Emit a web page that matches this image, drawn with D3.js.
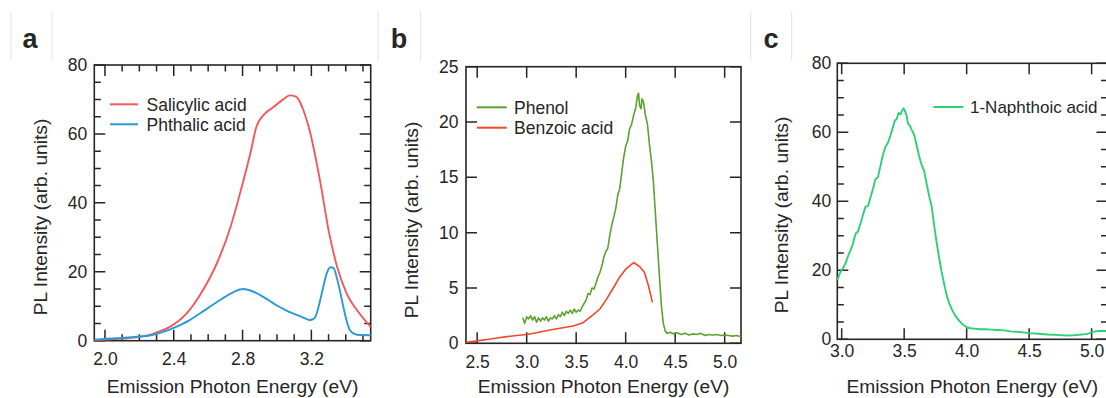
<!DOCTYPE html>
<html>
<head>
<meta charset="utf-8">
<script src="https://cdn.jsdelivr.net/npm/d3@7"></script>
<style>
  body { margin: 0; background: #fff; }
  svg { display: block; }
  text { font-family: "Liberation Sans", Arial, Helvetica, sans-serif; fill: #262626; }
</style>
</head>
<body>
<svg id="fig" width="1106" height="398"></svg>
<script>
// ---------- Panel a: PL spectra (arb. units) vs emission photon energy (eV) ----------
const salicylicE = [1.94, 2.0, 2.1, 2.2, 2.26, 2.3, 2.38, 2.475, 2.57, 2.65, 2.73, 2.795, 2.845, 2.88, 2.93, 2.98, 3.03, 3.076, 3.11, 3.134, 3.16, 3.19, 3.25, 3.30, 3.35, 3.405, 3.48, 3.545];
const salicylicI = [0.2, 0.3, 0.6, 1.1, 1.65, 2.4, 4.1, 7.9, 14.7, 22.4, 33.0, 44.6, 54.3, 62.0, 65.9, 67.8, 69.8, 71.2, 70.8, 69.2, 66.0, 61.0, 46.5, 32.1, 21.4, 13.7, 7.9, 4.0];

const phthalicE = [1.94, 2.0, 2.1, 2.2, 2.26, 2.33, 2.417, 2.49, 2.552, 2.669, 2.75, 2.804, 2.85, 2.90, 2.95, 3.0, 3.05, 3.10, 3.15, 3.19, 3.215, 3.231, 3.25, 3.269, 3.29, 3.312, 3.33, 3.347, 3.366, 3.386, 3.405, 3.424, 3.45, 3.483, 3.545];
const phthalicI = [0.3, 0.5, 0.8, 1.2, 1.5, 2.4, 4.1, 5.9, 7.9, 11.8, 14.2, 15.0, 14.5, 13.3, 11.8, 10.2, 8.9, 7.8, 6.8, 6.0, 6.4, 7.9, 11.5, 15.6, 19.6, 21.3, 21.0, 18.5, 14.5, 9.8, 5.8, 3.1, 2.0, 1.65, 1.6];

// ---------- Panel b ----------
const phenolE = [2.96, 2.98, 3.00, 3.02, 3.04, 3.06, 3.08, 3.10, 3.12, 3.14, 3.16, 3.18, 3.20, 3.22, 3.24, 3.26, 3.28, 3.30, 3.32, 3.34, 3.36, 3.38, 3.40, 3.42, 3.44, 3.46, 3.48, 3.50, 3.52, 3.54, 3.56, 3.58, 3.60, 3.62, 3.64, 3.66, 3.68, 3.70, 3.72, 3.74, 3.76, 3.78, 3.80, 3.82, 3.84, 3.86, 3.88, 3.90, 3.92, 3.94, 3.96, 3.98, 4.00, 4.02, 4.04, 4.06, 4.08, 4.10, 4.12, 4.13, 4.14, 4.155, 4.165, 4.18, 4.20, 4.22, 4.24, 4.26, 4.28, 4.30, 4.32, 4.34, 4.36, 4.38, 4.40, 4.42, 4.45, 4.48, 4.52, 4.56, 4.60, 4.64, 4.68, 4.72, 4.76, 4.80, 4.84, 4.88, 4.92, 4.96, 5.00, 5.04, 5.08, 5.12, 5.165];
const phenolI = [2.3, 1.8, 2.4, 2.2, 2.5, 2.1, 2.4, 1.9, 2.3, 2.0, 2.3, 2.1, 2.4, 2.0, 2.3, 2.2, 2.5, 2.2, 2.6, 2.4, 2.8, 2.5, 2.9, 2.7, 3.0, 2.7, 3.1, 2.8, 3.0, 2.9, 3.3, 3.6, 3.9, 4.5, 4.4, 5.0, 4.9, 5.4, 6.0, 6.4, 7.0, 7.8, 8.3, 8.6, 9.8, 10.7, 11.4, 12.2, 13.4, 14.0, 15.4, 16.8, 17.8, 18.3, 19.4, 19.8, 20.6, 21.2, 22.4, 22.6, 21.5, 21.2, 22.1, 21.8, 20.6, 19.8, 18.0, 16.5, 14.6, 11.8, 9.0, 6.2, 3.5, 1.8, 1.1, 0.9, 1.0, 0.85, 0.95, 0.8, 0.9, 0.75, 0.85, 0.8, 0.9, 0.7, 0.8, 0.75, 0.8, 0.7, 0.75, 0.7, 0.65, 0.7, 0.6];

const benzoicE = [2.39, 2.5, 2.6, 2.7, 2.8, 2.9, 3.0, 3.1, 3.235, 3.35, 3.47, 3.57, 3.67, 3.74, 3.8, 3.875, 3.94, 4.0, 4.08, 4.145, 4.19, 4.23, 4.27];
const benzoicI = [0.1, 0.22, 0.35, 0.48, 0.6, 0.7, 0.8, 0.95, 1.2, 1.38, 1.56, 1.86, 2.56, 3.1, 3.9, 5.0, 6.0, 6.7, 7.3, 6.9, 6.4, 5.2, 3.7];

// ---------- Panel c ----------
const naphthoicE = [2.965, 2.99, 3.01, 3.03, 3.05, 3.07, 3.09, 3.10, 3.115, 3.13, 3.15, 3.17, 3.19, 3.21, 3.23, 3.25, 3.27, 3.29, 3.31, 3.33, 3.35, 3.37, 3.39, 3.41, 3.425, 3.44, 3.455, 3.47, 3.485, 3.495, 3.505, 3.52, 3.53, 3.545, 3.56, 3.58, 3.60, 3.62, 3.64, 3.66, 3.68, 3.70, 3.72, 3.74, 3.76, 3.78, 3.80, 3.82, 3.84, 3.86, 3.88, 3.90, 3.92, 3.94, 3.96, 3.98, 4.00, 4.03, 4.06, 4.10, 4.15, 4.20, 4.25, 4.30, 4.35, 4.40, 4.45, 4.50, 4.55, 4.60, 4.65, 4.70, 4.75, 4.80, 4.85, 4.90, 4.95, 4.98, 5.00, 5.03, 5.06, 5.10, 5.127];
const naphthoicI = [17.2, 19.5, 20.6, 22.0, 24.0, 25.8, 27.6, 29.2, 30.8, 31.2, 33.5, 36.0, 38.4, 38.6, 41.0, 43.6, 46.4, 47.0, 50.2, 53.5, 55.8, 57.0, 59.0, 61.5, 63.4, 63.8, 65.6, 65.2, 66.4, 67.0, 66.3, 64.8, 62.5, 62.0, 60.8, 59.3, 56.2, 53.0, 50.5, 48.8, 45.0, 41.5, 38.5, 33.0, 28.0, 23.5, 19.5, 16.0, 12.8, 10.5, 8.8, 7.4, 6.3, 5.4, 4.6, 4.0, 3.5, 3.2, 3.1, 2.9, 2.9, 2.8, 2.7, 2.6, 2.3, 2.2, 2.0, 1.8, 1.7, 1.55, 1.4, 1.3, 1.2, 1.1, 1.15, 1.3, 1.5, 1.7, 2.0, 2.3, 2.4, 2.4, 2.4];

// ---------- Tick values ----------
const aXMajor = [2.0, 2.4, 2.8, 3.2];
const aXMinor = [2.1, 2.2, 2.3, 2.5, 2.6, 2.7, 2.9, 3.0, 3.1, 3.3, 3.4, 3.5];
const aYMajor = [0, 20, 40, 60, 80];
const aYMinor = [5, 10, 15, 25, 30, 35, 45, 50, 55, 65, 70, 75];

const bXMajor = [2.5, 3.0, 3.5, 4.0, 4.5, 5.0];
const bYMajor = [0, 5, 10, 15, 20, 25];

const cXMajor = [3.0, 3.5, 4.0, 4.5, 5.0];
const cYMajor = [0, 20, 40, 60, 80];
const cYMinor = [5, 10, 15, 25, 30, 35, 45, 50, 55, 65, 70, 75];

const xTitle = "Emission Photon Energy (eV)";
const yTitle = "PL Intensity (arb. units)";

const svg = d3.select("#fig");
const INK = "#262626";
const MAJOR = 11, MINOR = 6.5;

function drawPanel(p) {
  const g = svg.append("g");
  const x = d3.scaleLinear().domain(p.xDomain).range([p.left, p.right]);
  const y = d3.scaleLinear().domain(p.yDomain).range([p.bottom, p.top]);
  const fmtX = d3.format(".1f"), fmtY = d3.format("d");

  // tick labels from d3 axes
  const labels = (axis, tx, ty) => {
    const a = g.append("g").attr("transform", `translate(${tx},${ty})`).call(axis);
    a.select(".domain").remove();
    a.selectAll(".tick line").remove();
    a.selectAll(".tick text").attr("font-size", p.tickFont).attr("fill", INK)
      .style("font-family", '"Liberation Sans", Arial, sans-serif');
  };
  labels(d3.axisBottom(x).tickValues(p.xMajor).tickSize(0).tickPadding(p.xPad).tickFormat(fmtX), 0, p.bottom);
  labels(d3.axisLeft(y).tickValues(p.yMajor).tickSize(0).tickPadding(p.yPad).tickFormat(fmtY), p.left, 0);

  // inward tick marks on all four sides, placed with the same scales
  const marks = (vals, len) => {
    const d = vals.map(v =>
      `M${x(v)},${p.bottom}v${-len}M${x(v)},${p.top}v${len}`).join("");
    return d;
  };
  const ymarks = (vals, len) => vals.map(v =>
      `M${p.left},${y(v)}h${len}M${p.right},${y(v)}h${-len}`).join("");
  let tickD = marks(p.xMajor, MAJOR) + ymarks(p.yMajor, MAJOR);
  if (p.xMinor) tickD += marks(p.xMinor, MINOR);
  if (p.yMinor) tickD += ymarks(p.yMinor, MINOR);
  g.append("path").attr("d", tickD)
    .attr("fill", "none").attr("stroke", INK).attr("stroke-width", 1.5);

  // frame
  g.append("rect").attr("x", p.left).attr("y", p.top)
    .attr("width", p.right - p.left).attr("height", p.bottom - p.top)
    .attr("fill", "none").attr("stroke", INK).attr("stroke-width", 1.6);

  // spectra
  p.series.forEach(s => {
    const pts = s.e.map((e, i) => [e, s.v[i]]);
    g.append("path")
      .attr("d", d3.line().x(d => x(d[0])).y(d => y(d[1])).curve(p.curve)(pts))
      .attr("fill", "none").attr("stroke", s.color)
      .attr("stroke-width", s.width).attr("stroke-linejoin", "round");
  });

  // panel letter with its thin side rules
  p.letterBox.forEach(bx => {
    g.append("line").attr("x1", bx).attr("x2", bx).attr("y1", 12).attr("y2", 60)
      .attr("stroke", "#e2e2e2").attr("stroke-width", 1);
  });
  g.append("text").attr("x", p.letterX).attr("y", 47.5)
    .attr("text-anchor", "middle").attr("font-weight", "bold")
    .attr("font-size", 27).text(p.letter);

  // axis titles
  g.append("text").attr("x", (p.left + p.right) / 2).attr("y", 393)
    .attr("text-anchor", "middle").attr("font-size", 19.2).text(xTitle);
  g.append("text").attr("transform", `translate(${p.yTitleX},${p.yTitleY}) rotate(-90)`)
    .attr("text-anchor", "middle").attr("font-size", 19.2).text(yTitle);

  // legend
  p.series.forEach((s, i) => {
    const ly = p.legend.y + i * p.legend.dy;
    g.append("line").attr("x1", p.legend.x0).attr("x2", p.legend.x1)
      .attr("y1", ly).attr("y2", ly).attr("stroke", s.color).attr("stroke-width", 2);
    g.append("text").attr("x", p.legend.tx).attr("y", ly).attr("dy", "0.36em")
      .attr("font-size", p.legendFont).text(s.name);
  });
}

drawPanel({
  letter: "a", letterX: 30, letterBox: [11, 52],
  left: 94.3, right: 370.7, top: 65, bottom: 340.7,
  xDomain: [1.938, 3.545], yDomain: [0, 80],
  xMajor: aXMajor, xMinor: aXMinor, yMajor: aYMajor, yMinor: aYMinor,
  xPad: 12, yPad: 7, tickFont: 17.5, legendFont: 17.5,
  yTitleX: 46.5, yTitleY: 217,
  curve: d3.curveMonotoneX,
  legend: { x0: 110, x1: 138, tx: 146.5, y: 104.3, dy: 20 },
  series: [
    { name: "Salicylic acid", e: salicylicE, v: salicylicI, color: "#f2595c", width: 1.9 },
    { name: "Phthalic acid", e: phthalicE, v: phthalicI, color: "#2b9ad6", width: 1.9 }
  ]
});

drawPanel({
  letter: "b", letterX: 399, letterBox: [378, 420.7],
  left: 466, right: 741, top: 66.7, bottom: 343.3,
  xDomain: [2.387, 5.165], yDomain: [0, 25],
  xMajor: bXMajor, yMajor: bYMajor,
  xPad: 12, yPad: 7.5, tickFont: 17.5, legendFont: 17.5,
  yTitleX: 418, yTitleY: 220,
  curve: d3.curveLinear,
  legend: { x0: 476.7, x1: 506.7, tx: 514, y: 107.3, dy: 20.4 },
  series: [
    { name: "Phenol", e: phenolE, v: phenolI, color: "#5ba22f", width: 1.6 },
    { name: "Benzoic acid", e: benzoicE, v: benzoicI, color: "#f2472b", width: 1.6 }
  ]
});

drawPanel({
  letter: "c", letterX: 771, letterBox: [750.7, 791.7],
  left: 837.3, right: 1107.5, top: 63.3, bottom: 339.3,
  xDomain: [2.965, 5.127], yDomain: [0, 80],
  xMajor: cXMajor, yMajor: cYMajor, yMinor: cYMinor,
  xPad: 5, yPad: 6, tickFont: 17.5, legendFont: 17,
  yTitleX: 788, yTitleY: 215,
  curve: d3.curveLinear,
  legend: { x0: 933.3, x1: 963.3, tx: 970, y: 107, dy: 20 },
  series: [
    { name: "1-Naphthoic acid", e: naphthoicE, v: naphthoicI, color: "#2fcf74", width: 1.9 }
  ]
});
</script>
</body>
</html>
